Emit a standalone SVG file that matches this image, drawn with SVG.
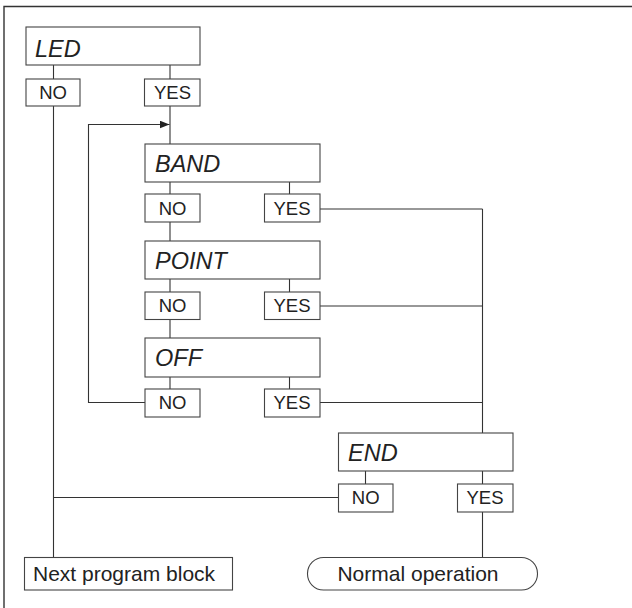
<svg xmlns="http://www.w3.org/2000/svg" width="632" height="608" viewBox="0 0 632 608">
<style>
.box{fill:#fff;stroke:#444;stroke-width:1.1}
.ln{fill:none;stroke:#333;stroke-width:1.1}
.frame{fill:none;stroke:#333;stroke-width:1.4}
.t{font-family:"Liberation Sans",Arial,sans-serif;fill:#222}
.title{font-size:23.5px;font-style:italic}
.yn{font-size:18.5px;text-anchor:middle}
.big{font-size:21px}
</style>
<defs>
<marker id="arr" viewBox="0 0 10 8" refX="10" refY="4" markerWidth="10" markerHeight="8" markerUnits="userSpaceOnUse" orient="auto">
<path d="M0,0 L10,4 L0,8 Z" fill="#222"/>
</marker>
</defs>
<path class="frame" d="M4,608 V6.5 H632"/>
<g id="connectors">
<path class="ln" d="M53.5,65 V79"/>
<path class="ln" d="M170,65 V79"/>
<path class="ln" d="M53.5,106 V557.5"/>
<path class="ln" d="M170,106 V144"/>
<path class="ln" d="M145,402.5 H88.5 V124.5 H169.5" marker-end="url(#arr)"/>
<path class="ln" d="M170,182 V194"/>
<path class="ln" d="M289.5,182 V194"/>
<path class="ln" d="M170,222 V241"/>
<path class="ln" d="M170,279 V292"/>
<path class="ln" d="M289.5,279 V292"/>
<path class="ln" d="M170,319.5 V338"/>
<path class="ln" d="M170,377 V389"/>
<path class="ln" d="M289.5,377 V389"/>
<path class="ln" d="M320,209 H482.5"/>
<path class="ln" d="M320,306 H482.5"/>
<path class="ln" d="M320,402.5 H482.5"/>
<path class="ln" d="M482.5,209 V433"/>
<path class="ln" d="M365.5,471 V484"/>
<path class="ln" d="M482.5,471 V484"/>
<path class="ln" d="M53.5,497.5 H338.5"/>
<path class="ln" d="M482.5,512 V557.5"/>
</g>
<g id="led">
<rect class="box" x="26" y="27" width="174" height="38"/>
<text class="t title" x="35" y="57">LED</text>
</g>
<g id="led-no">
<rect class="box" x="26" y="79" width="54" height="27"/>
<text class="t yn" x="53" y="99">NO</text>
</g>
<g id="led-yes">
<rect class="box" x="144.5" y="79" width="55.5" height="27"/>
<text class="t yn" x="172.5" y="99">YES</text>
</g>
<g id="band">
<rect class="box" x="145" y="144" width="175" height="38"/>
<text class="t title" x="155" y="172">BAND</text>
</g>
<g id="band-no">
<rect class="box" x="145" y="194" width="55" height="28"/>
<text class="t yn" x="172.5" y="214.5">NO</text>
</g>
<g id="band-yes">
<rect class="box" x="264.5" y="194" width="55.5" height="28"/>
<text class="t yn" x="292" y="214.5">YES</text>
</g>
<g id="point">
<rect class="box" x="145" y="241" width="175" height="38"/>
<text class="t title" x="155" y="269">POINT</text>
</g>
<g id="point-no">
<rect class="box" x="145" y="292" width="55" height="27.5"/>
<text class="t yn" x="172.5" y="312">NO</text>
</g>
<g id="point-yes">
<rect class="box" x="264.5" y="292" width="55.5" height="27.5"/>
<text class="t yn" x="292" y="312">YES</text>
</g>
<g id="off">
<rect class="box" x="145" y="338" width="175" height="39"/>
<text class="t title" x="155" y="366">OFF</text>
</g>
<g id="off-no">
<rect class="box" x="145" y="389" width="55" height="28"/>
<text class="t yn" x="172.5" y="409">NO</text>
</g>
<g id="off-yes">
<rect class="box" x="264.5" y="389" width="55.5" height="28"/>
<text class="t yn" x="292" y="409">YES</text>
</g>
<g id="end">
<rect class="box" x="338.5" y="433" width="174.5" height="38"/>
<text class="t title" x="348" y="461">END</text>
</g>
<g id="end-no">
<rect class="box" x="338.5" y="484" width="54.5" height="28"/>
<text class="t yn" x="365.7" y="504">NO</text>
</g>
<g id="end-yes">
<rect class="box" x="457.5" y="484" width="55.5" height="28"/>
<text class="t yn" x="485" y="504">YES</text>
</g>
<g id="next-block">
<rect class="box" x="24.5" y="557.5" width="208" height="32.5"/>
<text class="t big" x="33" y="581">Next program block</text>
</g>
<g id="normal-op">
<rect class="box" x="307.5" y="557.5" width="230" height="32.5" rx="16" ry="16"/>
<text class="t big" x="418" y="581" text-anchor="middle">Normal operation</text>
</g>
</svg>
